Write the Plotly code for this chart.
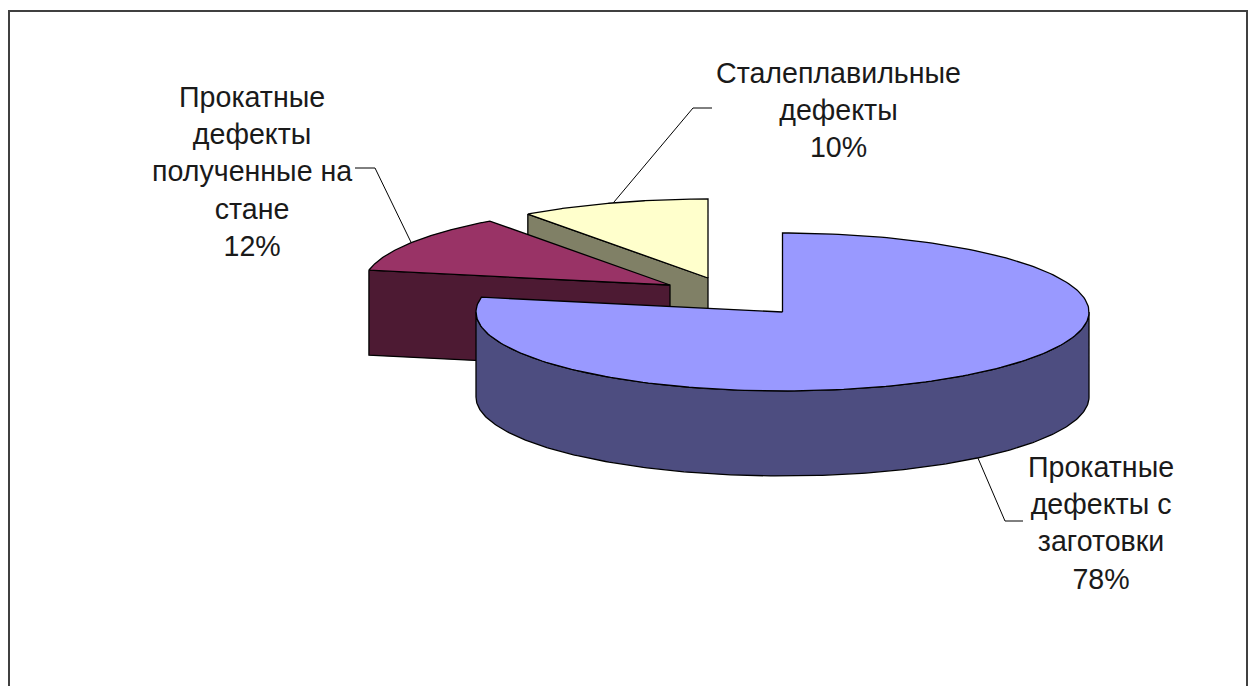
import math
import plotly.graph_objects as go

# Data
categories = [
    "Прокатные<br>дефекты с<br>заготовки",
    "Прокатные<br>дефекты<br>полученные на<br>стане",
    "Сталеплавильные<br>дефекты",
]
shares = [78, 12, 10]

# Styles
top_colors = ["#9999FF", "#993366", "#FFFFCC"]
side_colors = ["#4D4D80", "#4D1A33", "#808066"]
centers = [(782.5, 312), (670, 285), (708, 278)]
label_pos = [(1101, 523), (252, 171), (838, 110)]
elbows = [[(1005, 521), (1023, 521)], [(375, 168), (355, 168)], [(693, 108), (712, 108)]]
RX, RY, DEPTH = 306.5, 79, 85
LINE = dict(color="#000000", width=1.3)
FONT = dict(family="Liberation Sans, Arial, sans-serif", size=28.6, color="#1a1a1a")


def rim(c, deg, drop=0):
    a = math.radians(deg)
    return c[0] + RX * math.sin(a), c[1] - RY * math.cos(a) + drop


def arc(c, a0, a1, drop=0, n=240):
    return [rim(c, a0 + (a1 - a0) * i / n, drop) for i in range(n + 1)]


def poly(pts, color):
    return go.Scatter(
        x=[p[0] for p in pts] + [pts[0][0]],
        y=[p[1] for p in pts] + [pts[0][1]],
        mode="lines", fill="toself", fillcolor=color, line=LINE,
        hoverinfo="skip", showlegend=False,
    )


total = sum(shares)
starts, cum = [], 0
for v in shares:
    starts.append(cum / total * 360)
    cum += v
ends = [s + v / total * 360 for s, v in zip(starts, shares)]

fig = go.Figure()
# painter's order: back slices first
for i in [2, 1, 0]:
    c = centers[i]
    s, e = starts[i], ends[i]
    if i == 0:
        front = arc(c, 90, 270)
        back = arc(c, 270, 90, DEPTH)
        fig.add_trace(poly(front + back, side_colors[i]))
    else:
        corner = rim(c, s)
        fig.add_trace(poly([corner, c, (c[0], c[1] + DEPTH), (corner[0], corner[1] + DEPTH)], side_colors[i]))
    fig.add_trace(poly([c] + arc(c, s, e), top_colors[i]))

# leader lines, anchored on each slice's mid-angle
for i in range(3):
    mid = (starts[i] + ends[i]) / 2
    drop = DEPTH if i == 0 else 0
    pts = [rim(centers[i], mid, drop)] + elbows[i]
    fig.add_trace(go.Scatter(x=[p[0] for p in pts], y=[p[1] for p in pts], mode="lines",
                             line=dict(color="#000000", width=1), hoverinfo="skip", showlegend=False))

for i in range(3):
    fig.add_annotation(x=label_pos[i][0], y=label_pos[i][1], xref="x", yref="y",
                       text=f"{categories[i]}<br>{shares[i]}%", showarrow=False,
                       align="center", xanchor="center", yanchor="middle", font=FONT)

fig.add_shape(type="rect", x0=9, y0=11, x1=1247, y1=720, xref="x", yref="y",
              line=dict(color="#404040", width=2), fillcolor="rgba(0,0,0,0)", layer="above")

fig.update_layout(
    width=1255, height=686, margin=dict(l=0, r=0, t=0, b=0),
    paper_bgcolor="#FFFFFF", plot_bgcolor="#FFFFFF", showlegend=False,
    xaxis=dict(range=[0, 1255], visible=False, fixedrange=True),
    yaxis=dict(range=[686, 0], visible=False, fixedrange=True),
)
fig.write_html("out.html", post_script="document.body.style.margin='0';document.body.style.overflow='hidden';",
               config={"displayModeBar": False})
